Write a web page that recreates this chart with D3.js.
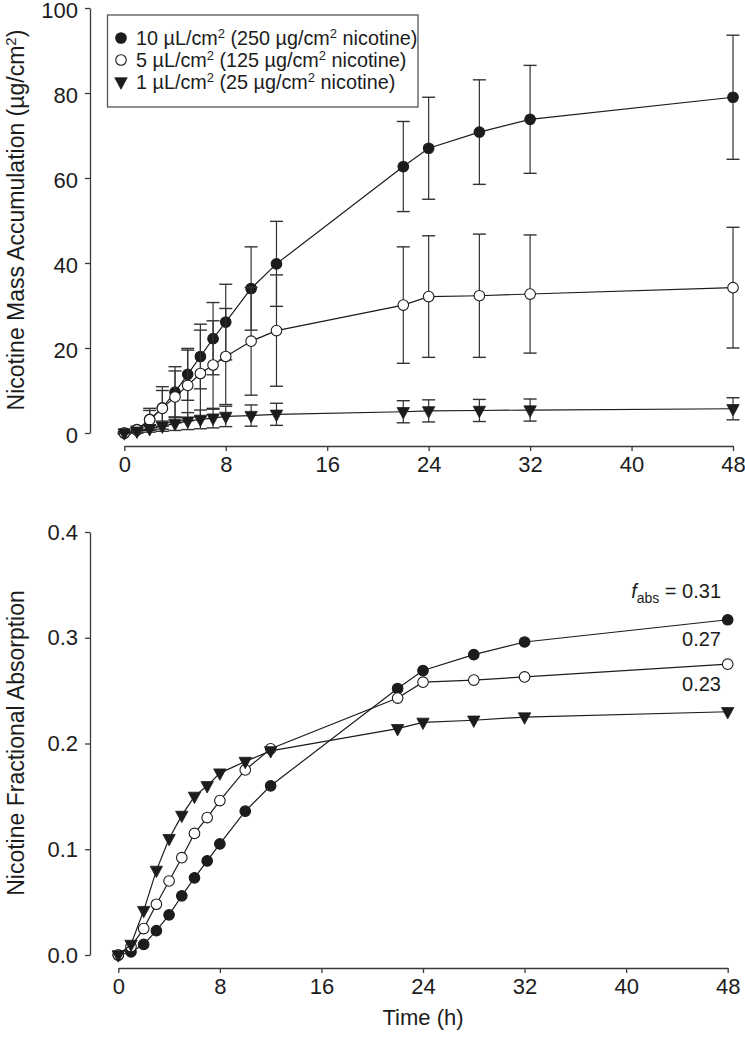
<!DOCTYPE html>
<html><head><meta charset="utf-8">
<script src="https://cdn.jsdelivr.net/npm/d3@7"></script>
<style>body{margin:0;background:#fff}</style>
</head><body>
<svg id="chart" width="745" height="1050"></svg>
<script>
// ---- data ----
const times = [0, 1, 2, 3, 4, 5, 6, 7, 8, 10, 12, 22, 24, 28, 32, 48];
// Nicotine mass accumulation (µg/cm²), mean and SD
const mass10   = [0, 0.8, 3.2, 5.9, 9.6, 13.8, 18.0, 22.2, 26.1, 34.0, 39.8, 62.7, 67.0, 70.8, 73.8, 79.0];
const mass10SD = [0.3, 0.8, 2.6, 5.0, 6.0, 6.1, 7.6, 8.5, 8.9, 9.8, 10.0, 10.6, 12.0, 12.3, 12.7, 14.6];
const mass5    = [0, 0.7, 3.1, 5.8, 8.5, 11.2, 14.0, 16.0, 18.0, 21.6, 24.1, 30.1, 32.1, 32.3, 32.7, 34.2];
const mass5SD  = [0.2, 0.6, 2.2, 4.2, 6.1, 8.3, 10.2, 10.4, 11.3, 12.7, 13.1, 13.7, 14.3, 14.5, 13.9, 14.2];
const mass1    = [0, 0.4, 1.0, 1.6, 2.2, 2.8, 3.2, 3.5, 3.9, 4.1, 4.4, 5.0, 5.2, 5.3, 5.4, 5.7];
const mass1SD  = [0.1, 0.3, 0.8, 1.2, 1.6, 2.0, 2.2, 2.3, 2.4, 2.5, 2.6, 2.6, 2.6, 2.6, 2.6, 2.6];
// Nicotine fractional absorption
const frac10 = [0, 0.003, 0.010, 0.023, 0.038, 0.056, 0.073, 0.089, 0.105, 0.136, 0.160, 0.252, 0.269, 0.284, 0.296, 0.317];
const frac5  = [0, 0.008, 0.025, 0.048, 0.070, 0.092, 0.115, 0.130, 0.146, 0.175, 0.195, 0.243, 0.258, 0.260, 0.263, 0.275];
const frac1  = [0, 0.010, 0.042, 0.080, 0.110, 0.132, 0.150, 0.160, 0.172, 0.183, 0.193, 0.214, 0.220, 0.222, 0.225, 0.230];
// ticks / labels
const xTicks = [0, 8, 16, 24, 32, 40, 48];
const massTicks = [0, 20, 40, 60, 80, 100];
const fracTicks = [0, 0.1, 0.2, 0.3, 0.4];
const legendDose = ["10", "5", "1"];
const legendNic = ["250", "125", "25"];
const fabsLabels = ["0.31", "0.27", "0.23"];

// ---- drawing ----
const svg = d3.select('#chart');
const FONT = "'Liberation Sans', Arial, Helvetica, sans-serif";
const INK = "#1c1c1c";
const AXIS = "#3a3a3a";

const xTop = d3.scaleLinear().domain([0, 48]).range([124.3, 733]);
const yTop = d3.scaleLinear().domain([0, 100]).range([433, 8]);
const xBot = d3.scaleLinear().domain([0, 48]).range([118.3, 727.7]);
const yBot = d3.scaleLinear().domain([0, 0.4]).range([955, 532]);

const triPath = "M-6.2,-4.2L6.2,-4.2L0,7.2Z";

function drawMarker(g, kind, x, y) {
  if (kind === "tri") {
    g.append("path").attr("d", triPath).attr("transform", `translate(${x},${y})`)
      .attr("fill", INK).attr("stroke", INK).attr("stroke-width", 0.8);
  } else {
    g.append("circle").attr("cx", x).attr("cy", y).attr("r", 5.3)
      .attr("fill", kind === "open" ? "#fff" : INK)
      .attr("stroke", INK).attr("stroke-width", 1.1);
  }
}
const kinds = ["filled", "open", "tri"];

function styleAxis(g, dy) {
  g.selectAll(".domain").attr("stroke", AXIS).attr("stroke-width", 1.3);
  g.selectAll(".tick line").attr("stroke", AXIS).attr("stroke-width", 1.3);
  const tt = g.selectAll(".tick text").attr("font-family", FONT).attr("font-size", 22).attr("fill", INK);
  if (dy) tt.attr("dy", dy);
}

// ---- top panel ----
const panelTop = svg.append("g");
const massSeries = [[mass10, mass10SD], [mass5, mass5SD], [mass1, mass1SD]];
const lineTop = d3.line().x(d => xTop(d[0])).y(d => yTop(d[1]));
massSeries.forEach(([m, sd], si) => {
  const g = panelTop.append("g");
  const pts = times.map((t, i) => [t, m[i], sd[i]]);
  pts.forEach(p => {
    const x = xTop(p[0]), y1 = yTop(p[1] + p[2]), y0 = yTop(Math.max(p[1] - p[2], -1));
    g.append("line").attr("x1", x).attr("x2", x).attr("y1", y1).attr("y2", y0)
      .attr("stroke", "#333").attr("stroke-width", 1.2);
    [y1, y0].forEach(yy => g.append("line").attr("x1", x - 6.5).attr("x2", x + 6.5)
      .attr("y1", yy).attr("y2", yy).attr("stroke", "#333").attr("stroke-width", 1.4));
  });
  g.append("path").datum(pts).attr("d", lineTop).attr("fill", "none")
    .attr("stroke", INK).attr("stroke-width", 1.2);
  pts.forEach(p => drawMarker(g, kinds[si], xTop(p[0]), yTop(p[1])));
});

const yAxT = svg.append("g").attr("transform", "translate(90,0)")
  .call(d3.axisLeft(yTop).tickValues(massTicks).tickSize(5).tickSizeOuter(0).tickPadding(7).tickFormat(d3.format("d")));
styleAxis(yAxT, "0.42em");
const xAxT = svg.append("g").attr("transform", "translate(0,446)")
  .call(d3.axisBottom(xTop).tickValues(xTicks).tickSize(5).tickSizeOuter(0).tickPadding(5));
styleAxis(xAxT);

const t1 = svg.append("text").attr("transform", "translate(24,220) rotate(-90)")
  .attr("text-anchor", "middle").attr("font-family", FONT).attr("font-size", 23).attr("fill", INK);
t1.append("tspan").text("Nicotine Mass Accumulation (µg/cm");
t1.append("tspan").attr("dy", -8).attr("font-size", 15).text("2");
t1.append("tspan").attr("dy", 8).text(")");

// legend
const lg = svg.append("g");
lg.append("rect").attr("x", 107.5).attr("y", 15).attr("width", 310.5).attr("height", 92)
  .attr("fill", "#fff").attr("stroke", "#555").attr("stroke-width", 1.3);
legendDose.forEach((d, i) => {
  const yb = 45 + i * 22;
  drawMarker(lg, kinds[i], 121, yb - 7);
  const tx = lg.append("text").attr("x", 136).attr("y", yb).attr("font-family", FONT)
    .attr("font-size", 19.8).attr("fill", INK);
  tx.append("tspan").text(`${d} µL/cm`);
  tx.append("tspan").attr("dy", -7).attr("font-size", 13).text("2");
  tx.append("tspan").attr("dy", 7).text(` (${legendNic[i]} µg/cm`);
  tx.append("tspan").attr("dy", -7).attr("font-size", 13).text("2");
  tx.append("tspan").attr("dy", 7).text(" nicotine)");
});

// ---- bottom panel ----
const panelBot = svg.append("g");
const fracSeries = [frac10, frac5, frac1];
const lineBot = d3.line().x(d => xBot(d[0])).y(d => yBot(d[1]));
fracSeries.forEach((f, si) => {
  const g = panelBot.append("g");
  const pts = times.map((t, i) => [t, f[i]]);
  g.append("path").datum(pts).attr("d", lineBot).attr("fill", "none")
    .attr("stroke", INK).attr("stroke-width", 1.2);
  pts.forEach(p => drawMarker(g, kinds[si], xBot(p[0]), yBot(p[1])));
});

const yAxB = svg.append("g").attr("transform", "translate(90,0)")
  .call(d3.axisLeft(yBot).tickValues(fracTicks).tickSize(5).tickSizeOuter(0).tickPadding(7).tickFormat(d3.format(".1f")));
styleAxis(yAxB);
const xAxB = svg.append("g").attr("transform", "translate(0,968)")
  .call(d3.axisBottom(xBot).tickValues(xTicks).tickSize(5).tickSizeOuter(0).tickPadding(5));
styleAxis(xAxB);

svg.append("text").attr("transform", "translate(24,743) rotate(-90)")
  .attr("text-anchor", "middle").attr("font-family", FONT).attr("font-size", 23).attr("fill", INK)
  .text("Nicotine Fractional Absorption");
svg.append("text").attr("x", xBot(24)).attr("y", 1025).attr("text-anchor", "middle")
  .attr("font-family", FONT).attr("font-size", 22).attr("fill", INK).text("Time (h)");

const fabsY = [598, 646, 691];
fabsLabels.forEach((lab, i) => {
  const t = svg.append("text").attr("x", 721).attr("y", fabsY[i]).attr("text-anchor", "end")
    .attr("font-family", FONT).attr("font-size", 20).attr("fill", INK);
  if (i === 0) {
    t.append("tspan").attr("font-style", "italic").text("f");
    t.append("tspan").attr("dy", 5).attr("font-size", 14).text("abs");
    t.append("tspan").attr("dy", -5).text(" = " + lab);
  } else {
    t.text(lab);
  }
});
</script>
</body></html>
